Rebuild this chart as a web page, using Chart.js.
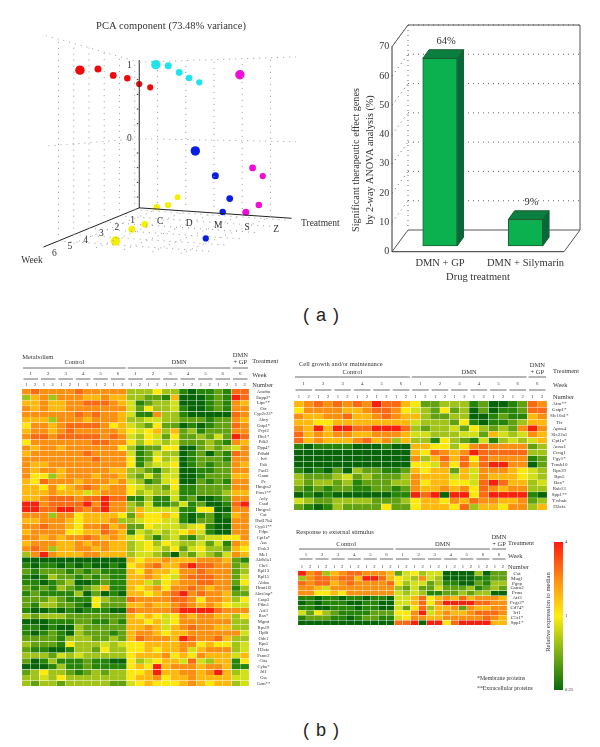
<!DOCTYPE html>
<html>
<head>
<meta charset="utf-8">
<script src="https://cdn.jsdelivr.net/npm/chart.js@4"></script>
<style>
  html, body { margin: 0; padding: 0; background: #fff; }
  body { width: 600px; height: 747px; position: relative; overflow: hidden; }
  canvas { position: absolute; }
  .part { position: absolute; font: 18px "Liberation Sans"; letter-spacing: 1px; color: #222; white-space: pre; }
</style>
</head>
<body>
<canvas id="pcaChart"></canvas>
<canvas id="barChart"></canvas>
<canvas id="metabolismChart"></canvas>
<canvas id="growthChart"></canvas>
<canvas id="stimulusChart"></canvas>
<canvas id="scaleChart"></canvas>
<div class="part" style="left:303px;top:305px">( a )</div>
<div class="part" style="left:303px;top:720px">( b )</div>
<script>
// PCA points: treatment position, week, component value
const redTreatment = [1.11, 1.21, 1.21, 1.17, 1.05, 0.90];
const redWeek = [6, 5, 4, 3, 2, 1];
const redPca = [0.76, 0.80, 0.76, 0.76, 0.72, 0.71];
const cyanTreatment = [3.80, 3.70, 3.55, 3.36, 3.18];
const cyanWeek = [6, 5, 4, 3, 2];
const cyanPca = [0.80, 0.82, 0.78, 0.75, 0.73];
const magentaTreatment = [6.78, 6.45, 6.15, 5.83, 5.43];
const magentaWeek = [6, 5, 4, 3, 2];
const magentaPca = [0.69, -0.64, -0.23, -0.67, -0.39];
const blueTreatment = [5.20, 5.37, 5.34, 4.55, 3.41];
const blueWeek = [6, 5, 4, 3, 2];
const bluePca = [-0.03, -0.29, -0.56, -0.77, -1.18];
const yellowTreatment = [2.37, 2.41, 2.33, 2.21, 2.07, 1.87];
const yellowWeek = [6, 5, 4, 3, 2, 1];
const yellowPca = [-0.94, -0.88, -0.89, -0.76, -0.80, -0.77];
const treatmentTicks = ['C', 'D', 'M', 'S', 'Z'];
const weekTicks = [1, 2, 3, 4, 5, 6];

// bar chart
const drugNames = ['DMN + GP', 'DMN + Silymarin'];
const drugShare = [64, 9];
const shareTicks = [0, 10, 20, 30, 40, 50, 60, 70];

// heat maps, each digit is one cell from 0 (0.25, green) to 9 (4, red)
const treatmentNames = ['Control', 'DMN', 'DMN'];
const treatmentColumns = [12, 12, 2];
const weekLabels = ['1', '2', '3', '4', '5', '6', '1', '2', '3', '4', '5', '6', '6'];
const sampleNumbers = ['1', '2', '1', '2', '1', '2', '1', '2', '1', '2', '1', '2', '1', '2', '1', '2', '1', '2', '1', '2', '1', '2', '1', '2', '1', '2'];

const metabolismGenes = ['Acadm', 'Enpp2*', 'Lipc**', 'Otc', 'Cyp2c23*', 'Abcy', 'Gstp1*', 'Pcyt2', 'Dio1*', 'Pdk2', 'Dpp4*', 'Pdhdd', 'Ivd', 'Pah', 'Facl2', 'Gamt', 'Pc', 'Hmgcs2', 'Pros1**', 'Acly', 'Csad', 'Hmgcs1', 'Cat', 'Hsd17b4', 'Cyp51**', 'Fdps', 'Cpt1a*', 'Ass', 'Pcsk3', 'Me1', 'Aldh1a1', 'Chr1', 'Rpl13', 'Rpl15', 'Aldoa', 'Hrmt1l2', 'Alox5ap*', 'Casp3', 'Pfkn1', 'Arf3', 'Bax*', 'Mgmt', 'Rps19', 'Hp8t', 'Odc1', 'Rps5', 'H2afz', 'Psmc2', 'Ctss', 'Cyba*', 'Jrl1', 'Gss', 'Gzm**'];
const metabolismLevels = [
  '787777877777 333533101121 88',
  '367377766766 332216000121 98',
  '667667788876 412334000121 76',
  '767667777777 425334100121 77',
  '777777878776 411733100000 87',
  '666377767776 334433222122 76',
  '577678888756 432522010122 87',
  '677678777776 545636231222 77',
  '788788888787 435425223242 98',
  '577777778877 535434222321 76',
  '767767777775 312255002323 47',
  '677777787777 412433012021 87',
  '777777778777 512534012221 77',
  '766777777777 513445012122 76',
  '767767777766 332134001122 77',
  '755367776776 324244001222 66',
  '658777677767 431245002121 77',
  '665756787677 543325112222 77',
  '666766646777 534334112223 66',
  '667888788988 113114120012 77',
  '997888897977 324112412001 89',
  '998899878977 364444115500 77',
  '777377566665 265565101201 67',
  '667776566673 345544102200 77',
  '778776577867 225444345100 77',
  '677775566876 143434564100 77',
  '776767787676 453134213445 57',
  '677766767766 345354334241 76',
  '787366776766 345435245332 65',
  '379766677666 344320324324 76',
  '000000000000 656676667776 21',
  '101101010010 567866898877 23',
  '212221212111 657665778777 23',
  '101322121211 667654788877 24',
  '110123001211 664356778877 25',
  '212132123611 656757787677 13',
  '121111302010 665678978776 22',
  '222321115322 877778875776 35',
  '213322105222 667667876765 44',
  '100101011100 877778999987 77',
  '323332222222 656545767766 35',
  '000111221121 665645777777 33',
  '110100322222 667646787766 33',
  '101210322212 677656677777 74',
  '222213332232 687776987786 33',
  '322215333434 556666775655 34',
  '211001332533 556566746777 34',
  '333243433333 566675657666 46',
  '201311121100 534566484366 15',
  '000131121111 565967776776 11',
  '235332123233 556966776796 34',
  '334353333333 566756676666 44',
  '323323333322 456555676566 34'
];

const growthGenes = ['Afm**', 'Gstp1*', 'Slc10a1*', 'Ttr', 'Apoa4', 'Slc22a1', 'Cpt1a*', 'Anxa1', 'Ccng1', 'Fgy1*', 'Tmsb10', 'Rps19', 'Rps5', 'Bax*', 'Rab13', 'Spp1**', 'Ywhah', 'H2afz'];
const growthLevels = [
  '678787879886 522333120012 87',
  '577776678875 432523020112 88',
  '766778667876 632233001211 67',
  '665566666666 433325101123 66',
  '769699889998 323342532327 97',
  '867677667776 443334426434 76',
  '867666786736 331532141343 46',
  '101111000100 665535787777 23',
  '000000000000 658767988888 33',
  '000000000000 736868587777 12',
  '000000000000 554758689977 02',
  '101020322112 656626477765 43',
  '322234232223 766646476665 43',
  '323323122233 756655489866 34',
  '212122112212 766767587677 33',
  '010100000011 989099589999 10',
  '432233332223 566576877667 23',
  '210132222522 566658366577 36'
];

const stimulusGenes = ['Cat', 'Mug1', 'Pgcp', 'Gstm2', 'Prms', 'Atf3', 'Fcgr2*', 'Cd74*', 'Irf1', 'C5r1*', 'Spp1*'];
const stimulusLevels = [
  '978367887776 245344000030 22',
  '378878869986 543743000011 22',
  '878867877778 534423110021 33',
  '776477777777 324224222312 32',
  '775565777777 434311223233 00',
  '110110110110 446856768677 76',
  '010111001100 446857999988 77',
  '110011101100 425836672766 77',
  '425321111222 557946766788 87',
  '122211012211 457766777778 76',
  '000000000000 889099589999 66'
];

const scaleTicks = [0.25, 1, 4];

const heatColors = ['#086408', '#268408', '#62a210', '#a2c418', '#d2e018', '#ffe80c', '#ffb80c', '#fb9010', '#f96a12', '#f6200c'];
const serif = 'Liberation Serif';

function place(id, left, top, width, height) {
  const c = document.getElementById(id);
  c.width = width;
  c.height = height;
  c.style.left = left + 'px';
  c.style.top = top + 'px';
  c.style.width = width + 'px';
  c.style.height = height + 'px';
  return c;
}

function text(ctx, str, x, y, size, align, color) {
  ctx.font = size + 'px "' + serif + '"';
  ctx.textAlign = align || 'center';
  ctx.textBaseline = 'middle';
  ctx.fillStyle = color || '#333';
  ctx.fillText(str, x, y);
}

function segment(ctx, x1, y1, x2, y2, color, width, dash) {
  ctx.save();
  ctx.strokeStyle = color;
  ctx.lineWidth = width;
  ctx.setLineDash(dash || []);
  ctx.beginPath();
  ctx.moveTo(x1, y1);
  ctx.lineTo(x2, y2);
  ctx.stroke();
  ctx.restore();
}

/* ---------- PCA plot ---------- */

// perspective of the box, result is in page pixels
function project(t, w, z) {
  const u = (t - 0.35) * 87;
  const v = (w - 0.7) * 47;
  return {
    x: (415 + u - v) / 3,
    y: (385 + 0.02 * u + 0.08 * v - z * (220 + 0.05 * u + 0.34 * v)) / 3 + 10
  };
}

const T0 = 0.35, T1 = 5.8, W0 = 0.7, W1 = 6.8, Z0 = -0.977, Z1 = 1.08;

function lineSet(a, b, color, width, dash) {
  return {
    type: 'scatter', showLine: true, data: [project(...a), project(...b)],
    borderColor: color, borderWidth: width, borderDash: dash || [], pointRadius: 0
  };
}

const gridDash = [1, 5];
const gridSets = [];
weekTicks.forEach(w => {
  gridSets.push(lineSet([T0, w, Z0], [T0, w, Z1], '#999', 1, gridDash));
  gridSets.push(lineSet([T0, w, Z0], [T1, w, Z0], '#999', 1, gridDash));
});
treatmentTicks.forEach((n, i) => {
  gridSets.push(lineSet([i + 1, W0, Z0], [i + 1, W0, Z1], '#999', 1, gridDash));
  gridSets.push(lineSet([i + 1, W0, Z0], [i + 1, W1, Z0], '#999', 1, gridDash));
});
[0, Z1].forEach(z => {
  gridSets.push(lineSet([T0, W0, z], [T0, W1, z], '#999', 1, gridDash));
  gridSets.push(lineSet([T0, W0, z], [T1 + 0.1, W0, z], '#999', 1, gridDash));
});

const axisSets = [
  lineSet([T0, W0, Z0], [T0, W0, Z1 + 0.03], '#222', 1),
  lineSet([T0, W0, Z0], [5.75, W0, Z0], '#222', 1),
  lineSet([T0, W0, Z0], [T0, 6.98, Z0], '#222', 1)
];

function pointSet(ts, ws, zs, color) {
  return {
    type: 'scatter',
    data: ts.map((t, i) => project(t, ws[i], zs[i])),
    backgroundColor: color, borderWidth: 0,
    pointRadius: ws.map(w => w === 6 ? 4.7 : 2.9 + w * 0.12)
  };
}

place('pcaChart', 0, 10, 345, 275);
new Chart(document.getElementById('pcaChart'), {
  type: 'scatter',
  data: {
    datasets: [
      ...gridSets,
      ...axisSets,
      pointSet(redTreatment, redWeek, redPca, '#ee0a0a'),
      pointSet(cyanTreatment, cyanWeek, cyanPca, '#1ce6ec'),
      pointSet(magentaTreatment, magentaWeek, magentaPca, '#ee0cd6'),
      pointSet(blueTreatment, blueWeek, bluePca, '#0a1ee0'),
      pointSet(yellowTreatment, yellowWeek, yellowPca, '#f4ee0a')
    ]
  },
  options: {
    responsive: false, animation: false,
    layout: { padding: 0 },
    scales: {
      x: { display: false, min: 0, max: 345 },
      y: { display: false, min: 10, max: 285, reverse: true }
    },
    plugins: { legend: { display: false }, tooltip: { enabled: false } }
  },
  plugins: [{
    id: 'pcaText',
    afterDraw(chart) {
      const ctx = chart.ctx;
      const at = (t, w, z) => {
        const p = project(t, w, z);
        return [p.x, p.y - 10];
      };
      text(ctx, 'PCA component (73.48% variance)', 171, 16, 10.5);
      treatmentTicks.forEach((n, i) => {
        const p = at(i + 1, W0, Z0);
        text(ctx, n, p[0] + 3, p[1] + 10, 9.5);
      });
      weekTicks.forEach(w => {
        const p = at(T0, w, Z0);
        text(ctx, String(w), p[0] - 1, p[1] + 9, 9.5);
      });
      [1, 0].forEach(z => {
        const p = at(T0, W0, z);
        text(ctx, String(z), p[0] - 9, p[1], 9.5);
      });
      [0.8, 0.6, 0.4, 0.2, -0.2, -0.4, -0.6, -0.8].forEach(z => {
        const p = at(T0, W0, z);
        segment(ctx, p[0] - 1.5, p[1], p[0], p[1], '#222', 1);
      });
      text(ctx, 'Treatment', 301, 213, 9.5, 'left');
      text(ctx, 'Week', 32, 250, 9.5);
    }
  }]
});

/* ---------- bar chart ---------- */

const barBase = 2;  // bars stand on the floor of the box, slightly above the 0 line
const depthX = 16, depthY = -21.7;

place('barChart', 340, 20, 250, 270);
new Chart(document.getElementById('barChart'), {
  type: 'bar',
  data: {
    labels: drugNames,
    datasets: [{
      data: drugShare.map(v => [barBase, barBase + v]),
      backgroundColor: '#0bb14f',
      borderColor: '#1d5e30',
      borderWidth: 1,
      borderSkipped: false,
      barThickness: 34.5
    }]
  },
  options: {
    responsive: false, animation: false,
    layout: { padding: { top: 26.7, right: 21.75 } },
    scales: {
      x: {
        grid: { display: false, drawTicks: false }, border: { display: false },
        ticks: { font: { family: serif, size: 10.5 }, color: '#333', padding: 5, maxRotation: 0, autoSkip: false },
        afterFit: s => { s.height = 38.3; }
      },
      y: {
        min: 0, max: 70,
        afterBuildTicks: s => { s.ticks = shareTicks.map(v => ({ value: v })); },
        grid: { display: false, drawTicks: false }, border: { display: false },
        ticks: { font: { family: serif, size: 10 }, color: '#333', padding: 8 },
        afterFit: s => { s.width = 57.25; }
      }
    },
    plugins: { legend: { display: false }, tooltip: { enabled: false } }
  },
  plugins: [{
    id: 'box',
    beforeDatasetsDraw(chart) {
      const ctx = chart.ctx, sy = chart.scales.y;
      const xL = 52, xR = 224;
      const y0 = sy.getPixelForValue(0), yT = sy.getPixelForValue(70);
      const dark = '#555', dots = [1, 4];
      shareTicks.slice(1).forEach(v => {
        const y = sy.getPixelForValue(v);
        segment(ctx, xL + depthX, y + depthY, xR + depthX, y + depthY, '#666', 1, dots);
        segment(ctx, xL, y, xL + depthX, y + depthY, '#666', 1, dots);
      });
      segment(ctx, xL + depthX, yT + depthY, xL + depthX, y0 + depthY, '#666', 1, dots);
      segment(ctx, xL, y0, xL, yT, '#333', 1);
      segment(ctx, xL, y0, xR, y0, '#333', 1);
      segment(ctx, xL, y0, xL + depthX, y0 + depthY, dark, 1);
      segment(ctx, xR, y0, xR + depthX, y0 + depthY, dark, 1);
      segment(ctx, xL + depthX, y0 + depthY, xR + depthX, y0 + depthY, dark, 1);
      segment(ctx, xL, yT, xL + depthX, yT + depthY, dark, 1);
      segment(ctx, xL + depthX, yT + depthY, xR + depthX, yT + depthY, dark, 1);
      segment(ctx, xR + depthX, yT + depthY, xR + depthX, y0 + depthY, dark, 1);
    },
    afterDatasetsDraw(chart) {
      const ctx = chart.ctx;
      const dx = 6.3, dy = -8.7;
      chart.getDatasetMeta(0).data.forEach((bar, i) => {
        const l = bar.x - bar.width / 2, r = bar.x + bar.width / 2;
        const shape = (pts, fill) => {
          ctx.beginPath();
          pts.forEach((p, k) => (k ? ctx.lineTo(p[0], p[1]) : ctx.moveTo(p[0], p[1])));
          ctx.closePath();
          ctx.fillStyle = fill;
          ctx.strokeStyle = '#1d5e30';
          ctx.lineWidth = 1;
          ctx.fill();
          ctx.stroke();
        };
        shape([[l, bar.y], [l + dx, bar.y + dy], [r + dx, bar.y + dy], [r, bar.y]], '#0b7f40');
        shape([[r, bar.y], [r + dx, bar.y + dy], [r + dx, bar.base + dy], [r, bar.base]], '#07693a');
        text(ctx, drugShare[i] + '%', bar.x + 6, bar.y + dy - 8.6, 10.5);
      });
      text(ctx, 'Drug treatment', 138, 257, 10.5);
      ctx.save();
      ctx.translate(16, 140);
      ctx.rotate(-Math.PI / 2);
      text(ctx, 'Significant therapeutic effect genes', 0, 0, 10.2);
      text(ctx, 'by 2-way ANOVA analysis (%)', 0, 14, 10.2);
      ctx.restore();
    }
  }]
});

/* ---------- heat maps ---------- */

const pad = 44, headH = 8, sideW = 36;

function heatPanel(id, genes, levels, box) {
  const rows = levels.map(r => r.split(' ').join('').split('').map(Number));
  const areaW = box.right - box.left;
  const areaH = box.rowH * genes.length;
  const canvasLeft = box.left - 5;
  const canvasTop = box.top - pad;
  place(id, canvasLeft, canvasTop, areaW + 5 + sideW, areaH + pad + 2);

  new Chart(document.getElementById(id), {
    type: 'bar',
    data: {
      labels: sampleNumbers,
      datasets: rows.map((row, r) => ({
        data: row.map(() => [r, r + 1]),
        backgroundColor: row.map(v => heatColors[v]),
        borderColor: '#fff',
        borderWidth: 0.4,
        borderSkipped: false,
        grouped: false,
        barPercentage: 1,
        categoryPercentage: 1
      }))
    },
    options: {
      responsive: false, animation: false,
      layout: { padding: { left: 5, top: pad - headH, bottom: 2 } },
      scales: {
        x: {
          position: 'top',
          grid: { display: false, drawTicks: false }, border: { display: false },
          ticks: { font: { family: serif, size: 4.6 }, color: '#333', padding: 1, maxRotation: 0, autoSkip: false },
          afterFit: s => { s.height = headH; }
        },
        y: {
          position: 'right', reverse: true, min: 0, max: genes.length,
          afterBuildTicks: s => { s.ticks = genes.map((g, i) => ({ value: i + 0.5 })); },
          grid: { display: false, drawTicks: false }, border: { display: false },
          ticks: {
            font: { family: serif, size: box.geneSize }, color: '#333',
            padding: box.genePad, crossAlign: 'center', autoSkip: false,
            callback: (v, i) => genes[i]
          },
          afterFit: s => { s.width = sideW; }
        }
      },
      plugins: { legend: { display: false }, tooltip: { enabled: false } }
    },
    plugins: [{
      id: 'heatHeader',
      afterDraw(chart) {
        const ctx = chart.ctx, sx = chart.scales.x, a = chart.chartArea;
        const colW = sx.width / sampleNumbers.length;
        const h = box.head;
        text(ctx, box.title, box.titleX - canvasLeft, a.top + box.titleY, 6.5, 'left');
        let col = 0;
        treatmentNames.forEach((name, i) => {
          const l = sx.getPixelForValue(col) - colW / 2;
          const r = sx.getPixelForValue(col + treatmentColumns[i] - 1) + colW / 2;
          const mid = (l + r) / 2;
          if (i === 2) {
            text(ctx, name, mid, a.top + h[0] - 7, 6.5);
            text(ctx, '+ GP', mid, a.top + h[0], 6.5);
          } else {
            text(ctx, name, mid, a.top + h[0], 6.5);
          }
          segment(ctx, l + 1, a.top + h[1], r - 1, a.top + h[1], '#444', 0.8);
          col += treatmentColumns[i];
        });
        const sx0 = treatmentColumns[0] + treatmentColumns[1];
        weekLabels.forEach((w, i) => {
          const first = i < 12 ? i * 2 : sx0;
          const l = sx.getPixelForValue(first) - colW / 2;
          const r = sx.getPixelForValue(first + 1) + colW / 2;
          text(ctx, w, (l + r) / 2, a.top + h[2], 4.8);
          segment(ctx, l + 1.5, a.top + h[3], r - 1.5, a.top + h[3], '#444', 0.8);
        });
        const lx = box.labelX - canvasLeft;
        text(ctx, 'Treatment', lx, a.top + h[0] - 1, 6.4, 'left');
        text(ctx, 'Week', lx, a.top + h[2] + 1, 6.4, 'left');
        text(ctx, 'Number', lx, a.top - 4, 6.4, 'left');
      }
    }]
  });
}

heatPanel('metabolismChart', metabolismGenes, metabolismLevels, {
  left: 21.7, right: 249, top: 389, rowH: 5.72, geneSize: 4.6, genePad: 5,
  title: 'Metabolism', titleX: 22, titleY: -32, labelX: 252, head: [-27, -21, -15, -10]
});
heatPanel('growthChart', growthGenes, growthLevels, {
  left: 294, right: 547, top: 400.7, rowH: 6.29, geneSize: 5, genePad: 3,
  title: 'Cell growth and/or maintenance', titleX: 299, titleY: -37, labelX: 553, head: [-29, -24, -17, -11]
});
heatPanel('stimulusChart', stimulusGenes, stimulusLevels, {
  left: 298, right: 507, top: 571, rowH: 5.3, geneSize: 5, genePad: 3,
  title: 'Response to external stimulus', titleX: 296, titleY: -39, labelX: 508, head: [-27, -22, -16, -12]
});

/* ---------- colour scale ---------- */

place('scaleChart', 470, 535, 125, 162);
new Chart(document.getElementById('scaleChart'), {
  type: 'bar',
  data: {
    labels: [''],
    datasets: [{
      data: [[scaleTicks[0], scaleTicks[2]]],
      barPercentage: 1, categoryPercentage: 1,
      backgroundColor(c) {
        const a = c.chart.chartArea;
        if (!a) return '#ffee10';
        const g = c.chart.ctx.createLinearGradient(0, a.top, 0, a.bottom);
        g.addColorStop(0, '#ff1a10');
        g.addColorStop(0.25, '#ff8c14');
        g.addColorStop(0.5, '#ffee10');
        g.addColorStop(0.75, '#7cb016');
        g.addColorStop(1, '#0a6b0a');
        return g;
      }
    }]
  },
  options: {
    responsive: false, animation: false,
    layout: { padding: { left: 84, top: 7, bottom: 7 } },
    scales: {
      x: { display: false },
      y: {
        type: 'logarithmic', position: 'right', min: scaleTicks[0], max: scaleTicks[2],
        afterBuildTicks: s => { s.ticks = scaleTicks.map(v => ({ value: v })); },
        grid: { display: false, drawTicks: false }, border: { display: false },
        ticks: { font: { family: serif, size: 4.8 }, color: '#333', padding: 2, callback: v => String(v) },
        afterFit: s => { s.width = 32; }
      }
    },
    plugins: { legend: { display: false }, tooltip: { enabled: false } }
  },
  plugins: [{
    id: 'scaleText',
    afterDraw(chart) {
      const ctx = chart.ctx;
      ctx.save();
      ctx.translate(78, 77);
      ctx.rotate(-Math.PI / 2);
      text(ctx, 'Relative expression to median', 0, 0, 6.6);
      ctx.restore();
      text(ctx, '*Membrane proteins', 7, 143, 5.8, 'left');
      text(ctx, '**Extracellular proteins', 7, 153, 5.8, 'left');
    }
  }]
});
</script>
</body>
</html>
